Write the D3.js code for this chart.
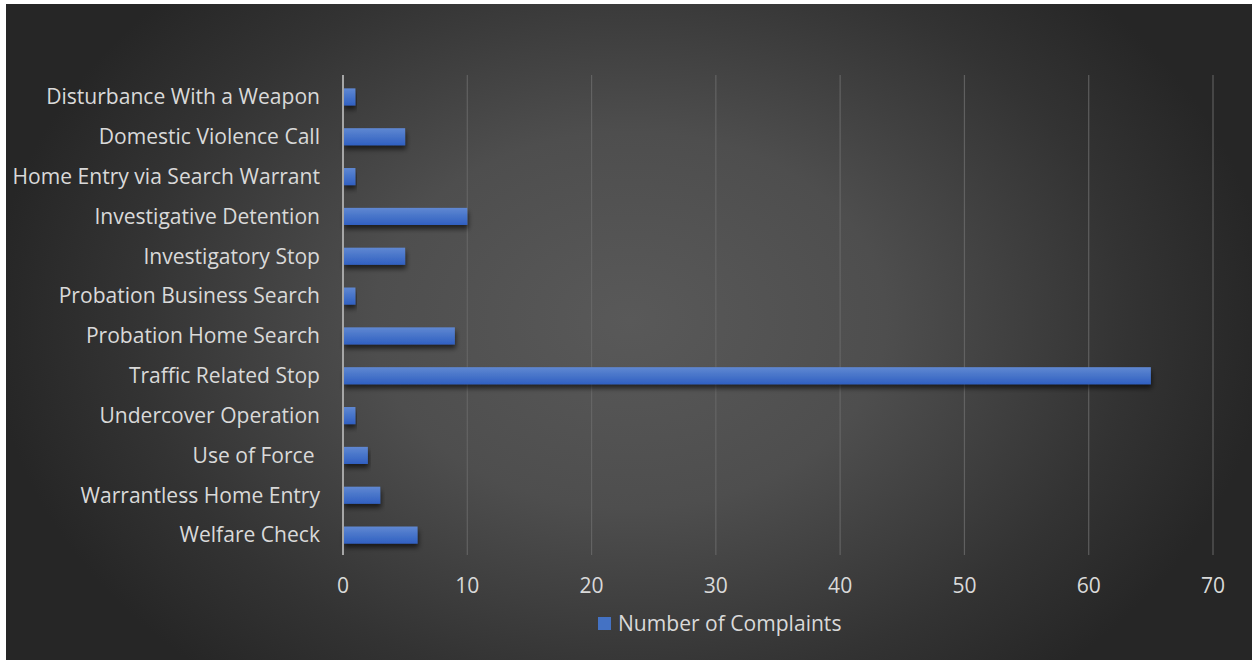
<!DOCTYPE html>
<html><head><meta charset="utf-8">
<script src="https://cdn.jsdelivr.net/npm/d3@7"></script>
<style>
html,body{margin:0;padding:0;background:#fff;}
svg{display:block;}
</style></head>
<body>
<svg id="chart" width="1252" height="660"></svg>
<script>
const categories = ["Disturbance With a Weapon","Domestic Violence Call","Home Entry via Search Warrant","Investigative Detention","Investigatory Stop","Probation Business Search","Probation Home Search","Traffic Related Stop","Undercover Operation","Use of Force ","Warrantless Home Entry","Welfare Check"];
const values = [1,5,1,10,5,1,9,65,1,2,3,6];
const xTicks = [0,10,20,30,40,50,60,70];
const seriesName = "Number of Complaints";

const svg = d3.select("#chart");
const defs = svg.append("defs");
const bg = defs.append("radialGradient").attr("id","bg").attr("gradientUnits","userSpaceOnUse")
  .attr("cx",0).attr("cy",0).attr("r",1)
  .attr("gradientTransform","translate(630,320) scale(640,470)");
bg.append("stop").attr("offset","0").attr("stop-color","#595959");
bg.append("stop").attr("offset","0.4").attr("stop-color","#4e4e4e");
bg.append("stop").attr("offset","0.78").attr("stop-color","#333333");
bg.append("stop").attr("offset","1").attr("stop-color","#262626");
const bar = defs.append("linearGradient").attr("id","bar").attr("x1",0).attr("y1",0).attr("x2",0).attr("y2",1);
bar.append("stop").attr("offset","0").attr("stop-color","#6088d2");
bar.append("stop").attr("offset","0.5").attr("stop-color","#4774c9");
bar.append("stop").attr("offset","1").attr("stop-color","#3160c2");
const sh = defs.append("filter").attr("id","sh").attr("x","-10%").attr("y","-50%").attr("width","120%").attr("height","250%");
sh.append("feGaussianBlur").attr("in","SourceAlpha").attr("stdDeviation",2.5).attr("result","b");
sh.append("feOffset").attr("in","b").attr("dy",4).attr("dx",1).attr("result","o");
sh.append("feComponentTransfer").attr("in","o").attr("result","o2")
  .append("feFuncA").attr("type","linear").attr("slope",0.6);
const m = sh.append("feMerge");
m.append("feMergeNode").attr("in","o2");
m.append("feMergeNode").attr("in","SourceGraphic");

svg.append("rect").attr("x",6).attr("y",4).attr("width",1246).attr("height",656).attr("fill","url(#bg)");

const x = d3.scaleLinear().domain([0,70]).range([343,1213]);
const y = d3.scaleBand().domain(categories).range([77,555]).paddingInner(0.57).paddingOuter(0.285);

// gridlines
svg.append("g").selectAll("line").data(xTicks.filter(d=>d>0)).join("line")
  .attr("x1",d=>x(d)).attr("x2",d=>x(d)).attr("y1",75).attr("y2",555)
  .attr("stroke","#6a6a6a").attr("stroke-width",1.2).attr("opacity",0.8);

// bars
svg.append("g").selectAll("rect").data(categories).join("rect")
  .attr("x",x(0)).attr("y",d=>y(d)).attr("width",(d,i)=>x(values[i])-x(0))
  .attr("height",y.bandwidth()).attr("fill","url(#bar)").attr("filter","url(#sh)");

// axis line
svg.append("line").attr("x1",x(0)).attr("x2",x(0)).attr("y1",75).attr("y2",555)
  .attr("stroke","#a6a6a6").attr("stroke-width",2);

const font = "'Open Sans', 'Noto Sans', sans-serif";
// fit font size so the longest label matches the reference width
const probe = svg.append("text").attr("font-family",font).attr("font-size",20).text(categories[0]);
const w20 = probe.node().getComputedTextLength();
probe.remove();
const fs = Math.min(22, 20 * 274 / w20);

// category labels
svg.append("g").selectAll("text").data(categories).join("text")
  .attr("x",320).attr("y",d=>y(d)+y.bandwidth()/2).attr("dy","0.35em")
  .attr("text-anchor","end").attr("fill","#d9d9d9").style("white-space","pre")
  .attr("font-family",font).attr("font-size",fs).text(d=>d);

// x tick labels
svg.append("g").selectAll("text").data(xTicks).join("text")
  .attr("x",d=>x(d)).attr("y",586).attr("dy","0.35em").attr("text-anchor","middle")
  .attr("fill","#d9d9d9").attr("font-family",font).attr("font-size",fs).text(d=>d);

// legend
svg.append("rect").attr("x",598).attr("y",617).attr("width",13).attr("height",13).attr("fill","#4472c4");
svg.append("text").attr("x",618).attr("y",624).attr("dy","0.35em").attr("fill","#d9d9d9")
  .attr("font-family",font).attr("font-size",fs).text(seriesName);
</script>
</body></html>
